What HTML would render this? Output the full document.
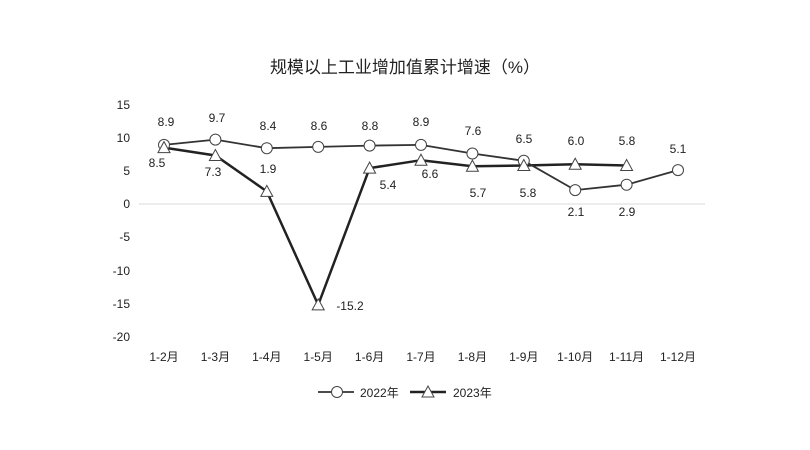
<!DOCTYPE html><html><head><meta charset="utf-8"><style>body{margin:0;background:#fff}svg{display:block}text{font-family:"Liberation Sans","Noto Sans CJK SC",sans-serif;font-size:12px;fill:#222}</style></head><body>
<svg width="810" height="450" viewBox="0 0 810 450">
<text x="405" y="73" text-anchor="middle" style="font-size:17px">规模以上工业增加值累计增速（%）</text>
<g text-anchor="end">
<text x="130" y="109">15</text><text x="130" y="142">10</text><text x="130" y="175">5</text><text x="130" y="208">0</text><text x="130" y="241">-5</text><text x="130" y="275">-10</text><text x="130" y="308">-15</text><text x="130" y="341">-20</text></g>
<line x1="139" y1="204" x2="705" y2="204" stroke="#d9d9d9"/>
<g text-anchor="middle">
<text x="164" y="361">1-2月</text><text x="215.4" y="361">1-3月</text><text x="266.8" y="361">1-4月</text><text x="318.2" y="361">1-5月</text><text x="369.6" y="361">1-6月</text><text x="421" y="361">1-7月</text><text x="472.4" y="361">1-8月</text><text x="523.8" y="361">1-9月</text><text x="575.2" y="361">1-10月</text><text x="626.6" y="361">1-11月</text><text x="678" y="361">1-12月</text></g>
<polyline fill="none" stroke="#222" stroke-width="2.5" points="164,147.6 215.4,155.5 266.8,191.4 318.2,304.9 369.6,168.1 421,160.2 472.4,166.2 523.8,165.5 575.2,164.2 626.6,165.5"/>
<polyline fill="none" stroke="#333" stroke-width="1.8" points="164,144.9 215.4,139.6 266.8,148.2 318.2,146.9 369.6,145.6 421,144.9 472.4,153.5 523.8,160.8 575.2,190.1 626.6,184.7 678,170.1"/>
<g fill="#fff" stroke="#444" stroke-width="1">
<circle cx="164" cy="144.9" r="5.5"/><circle cx="215.4" cy="139.6" r="5.5"/><circle cx="266.8" cy="148.2" r="5.5"/><circle cx="318.2" cy="146.9" r="5.5"/><circle cx="369.6" cy="145.6" r="5.5"/><circle cx="421" cy="144.9" r="5.5"/><circle cx="472.4" cy="153.5" r="5.5"/><circle cx="523.8" cy="160.8" r="5.5"/><circle cx="575.2" cy="190.1" r="5.5"/><circle cx="626.6" cy="184.7" r="5.5"/><circle cx="678" cy="170.1" r="5.5"/>
</g>
<g fill="#fff" stroke="#444" stroke-width="1">
<polygon points="164,141.6 170,152.6 158,152.6"/><polygon points="215.4,149.5 221.4,160.5 209.4,160.5"/><polygon points="266.8,185.4 272.8,196.4 260.8,196.4"/><polygon points="318.2,298.9 324.2,309.9 312.2,309.9"/><polygon points="369.6,162.1 375.6,173.1 363.6,173.1"/><polygon points="421,154.2 427,165.2 415,165.2"/><polygon points="472.4,160.2 478.4,171.2 466.4,171.2"/><polygon points="523.8,159.5 529.8,170.5 517.8,170.5"/><polygon points="575.2,158.2 581.2,169.2 569.2,169.2"/><polygon points="626.6,159.5 632.6,170.5 620.6,170.5"/>
</g>
<g text-anchor="middle">
<text x="166" y="126">8.9</text><text x="217" y="122">9.7</text><text x="268" y="130">8.4</text><text x="319" y="130">8.6</text><text x="370" y="130">8.8</text><text x="421" y="126">8.9</text><text x="473" y="135">7.6</text><text x="524" y="143">6.5</text><text x="576" y="216">2.1</text><text x="627" y="216">2.9</text><text x="678" y="153">5.1</text>
<text x="157" y="167">8.5</text><text x="213" y="176">7.3</text><text x="268" y="173">1.9</text><text x="350" y="310">-15.2</text><text x="388" y="189">5.4</text><text x="430" y="178">6.6</text><text x="478" y="197">5.7</text><text x="528" y="197">5.8</text><text x="576" y="145">6.0</text><text x="627" y="145">5.8</text>
</g>
<line x1="318" y1="392" x2="354" y2="392" stroke="#333" stroke-width="1.8"/><circle cx="337" cy="392" r="5.5" fill="#fff" stroke="#444"/>
<text x="360" y="397">2022年</text>
<line x1="410" y1="392" x2="446" y2="392" stroke="#222" stroke-width="2.5"/><polygon points="428,386 434,397 422,397" fill="#fff" stroke="#444"/>
<text x="453" y="397">2023年</text>
</svg></body></html>
